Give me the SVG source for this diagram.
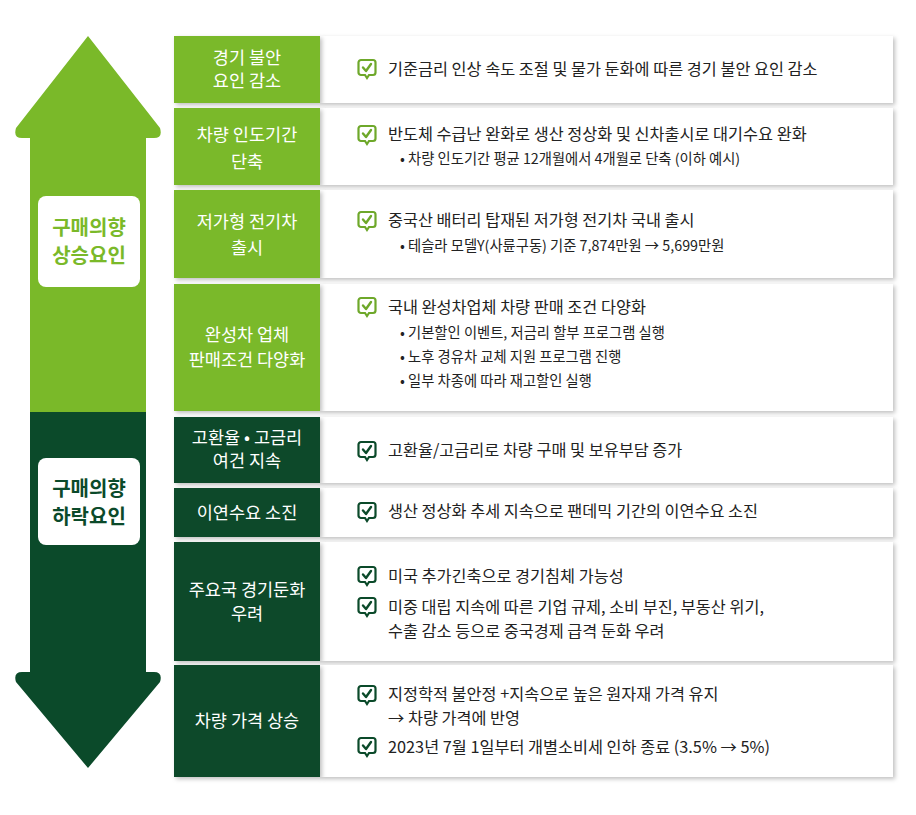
<svg xmlns="http://www.w3.org/2000/svg" width="916" height="815" viewBox="0 0 916 815">
<defs>
<filter id="sh" x="-5%" y="-10%" width="115%" height="130%"><feDropShadow dx="2" dy="2" stdDeviation="2" flood-color="#000" flood-opacity="0.25"/></filter>
<symbol id="ckL" viewBox="0 0 20 22"><path d="M4 2h12a2.5 2.5 0 0 1 2.5 2.5v10a2.5 2.5 0 0 1-2.5 2.5h-4l-2 3-2-3h-4a2.5 2.5 0 0 1-2.5-2.5v-10a2.5 2.5 0 0 1 2.5-2.5z" fill="none" stroke="#6ea82a" stroke-width="2.2"/><path d="M6 9.5l3 3.5 5-7" fill="none" stroke="#6ea82a" stroke-width="2.4" stroke-linecap="round" stroke-linejoin="round"/></symbol>
<symbol id="ckD" viewBox="0 0 20 22"><path d="M4 2h12a2.5 2.5 0 0 1 2.5 2.5v10a2.5 2.5 0 0 1-2.5 2.5h-4l-2 3-2-3h-4a2.5 2.5 0 0 1-2.5-2.5v-10a2.5 2.5 0 0 1 2.5-2.5z" fill="none" stroke="#0b4a2a" stroke-width="2.2"/><path d="M6 9.5l3 3.5 5-7" fill="none" stroke="#0b4a2a" stroke-width="2.4" stroke-linecap="round" stroke-linejoin="round"/></symbol>
</defs>
<style>
text{font-family:"Noto Sans CJK KR","Noto Sans",sans-serif}
.lt{fill:#fff;font-size:17.5px;text-anchor:middle}
.rt{fill:#222;font-size:16.3px}
.bt{fill:#222;font-size:14.3px}
.lg{fill:#7ab929}.dg{fill:#0b4a2a}
.pn{fill:#fff}
</style>
<rect width="916" height="815" fill="#fff"/>
<g id="arrows">
<path d="M88 36L160 128Q163 138 154 138H146V412H30V138H22Q13 138 16 128Z" fill="#7ab929"/>
<path d="M30 412H146V672H154Q163 672 160 682L88 768L16 682Q13 672 22 672H30Z" fill="#0b4a2a"/>
<rect x="38" y="196" width="102" height="91" rx="8" fill="#fff"/>
<text x="89" y="235" text-anchor="middle" font-size="20" font-weight="bold" fill="#7ab929">구매의향</text>
<text x="89" y="263" text-anchor="middle" font-size="20" font-weight="bold" fill="#7ab929">상승요인</text>
<rect x="38" y="458" width="102" height="87" rx="8" fill="#fff"/>
<text x="89" y="496" text-anchor="middle" font-size="20" font-weight="bold" fill="#0b4a2a">구매의향</text>
<text x="89" y="524" text-anchor="middle" font-size="20" font-weight="bold" fill="#0b4a2a">하락요인</text>
</g>
<g id="r1"><rect class="pn" x="320" y="36" width="573" height="67" filter="url(#sh)"/><rect class="lg" x="174" y="36" width="146" height="67" filter="url(#sh)"/>
<text class="lt" x="247" y="64">경기 불안</text><text class="lt" x="247" y="87">요인 감소</text>
<use href="#ckL" x="357" y="58" width="20" height="22"/><text class="rt" x="388" y="75">기준금리 인상 속도 조절 및 물가 둔화에 따른 경기 불안 요인 감소</text></g>
<g id="r2"><rect class="pn" x="320" y="108" width="573" height="77" filter="url(#sh)"/><rect class="lg" x="174" y="108" width="146" height="77" filter="url(#sh)"/>
<text class="lt" x="247" y="141">차량 인도기간</text><text class="lt" x="247" y="168">단축</text>
<use href="#ckL" x="357" y="124" width="20" height="22"/><text class="rt" x="388" y="140">반도체 수급난 완화로 생산 정상화 및 신차출시로 대기수요 완화</text>
<text class="bt" x="400" y="164">•  차량 인도기간 평균 12개월에서 4개월로 단축 (이하 예시)</text></g>
<g id="r3"><rect class="pn" x="320" y="190" width="573" height="88" filter="url(#sh)"/><rect class="lg" x="174" y="190" width="146" height="88" filter="url(#sh)"/>
<text class="lt" x="247" y="228">저가형 전기차</text><text class="lt" x="247" y="254">출시</text>
<use href="#ckL" x="357" y="210" width="20" height="22"/><text class="rt" x="388" y="226">중국산 배터리 탑재된 저가형 전기차 국내 출시</text>
<text class="bt" x="400" y="251">•  테슬라 모델Y(사륜구동) 기준 7,874만원 → 5,699만원</text></g>
<g id="r4"><rect class="pn" x="320" y="284" width="573" height="127" filter="url(#sh)"/><rect class="lg" x="174" y="284" width="146" height="127" filter="url(#sh)"/>
<text class="lt" x="247" y="341">완성차 업체</text><text class="lt" x="247" y="366">판매조건 다양화</text>
<use href="#ckL" x="357" y="296" width="20" height="22"/><text class="rt" x="388" y="313">국내 완성차업체 차량 판매 조건 다양화</text>
<text class="bt" x="400" y="338">•  기본할인 이벤트, 저금리 할부 프로그램 실행</text>
<text class="bt" x="400" y="362">•  노후 경유차 교체 지원 프로그램 진행</text>
<text class="bt" x="400" y="386">•  일부 차종에 따라 재고할인 실행</text></g>
<g id="r5"><rect class="pn" x="320" y="417" width="573" height="66" filter="url(#sh)"/><rect class="dg" x="174" y="417" width="146" height="66" filter="url(#sh)"/>
<text class="lt" x="247" y="444">고환율 • 고금리</text><text class="lt" x="247" y="467">여건 지속</text>
<use href="#ckD" x="357" y="440" width="20" height="22"/><text class="rt" x="388" y="456">고환율/고금리로 차량 구매 및 보유부담 증가</text></g>
<g id="r6"><rect class="pn" x="320" y="488" width="573" height="49" filter="url(#sh)"/><rect class="dg" x="174" y="488" width="146" height="49" filter="url(#sh)"/>
<text class="lt" x="247" y="519">이연수요 소진</text>
<use href="#ckD" x="357" y="501" width="20" height="22"/><text class="rt" x="388" y="517">생산 정상화 추세 지속으로 팬데믹 기간의 이연수요 소진</text></g>
<g id="r7"><rect class="pn" x="320" y="542" width="573" height="119" filter="url(#sh)"/><rect class="dg" x="174" y="542" width="146" height="119" filter="url(#sh)"/>
<text class="lt" x="247" y="596">주요국 경기둔화</text><text class="lt" x="247" y="620">우려</text>
<use href="#ckD" x="357" y="565" width="20" height="22"/><text class="rt" x="388" y="582">미국 추가긴축으로 경기침체 가능성</text>
<use href="#ckD" x="357" y="596" width="20" height="22"/><text class="rt" x="388" y="613">미중 대립 지속에 따른 기업 규제, 소비 부진, 부동산 위기,</text>
<text class="rt" x="388" y="637">수출 감소 등으로 중국경제 급격 둔화 우려</text></g>
<g id="r8"><rect class="pn" x="320" y="665" width="573" height="112" filter="url(#sh)"/><rect class="dg" x="174" y="665" width="146" height="112" filter="url(#sh)"/>
<text class="lt" x="247" y="727">차량 가격 상승</text>
<use href="#ckD" x="357" y="684" width="20" height="22"/><text class="rt" x="388" y="700">지정학적 불안정 +지속으로 높은 원자재 가격 유지</text>
<text class="rt" x="388" y="724">→ 차량 가격에 반영</text>
<use href="#ckD" x="357" y="736" width="20" height="22"/><text class="rt" x="388" y="753">2023년 7월 1일부터 개별소비세 인하 종료 (3.5% → 5%)</text></g>
</svg>
